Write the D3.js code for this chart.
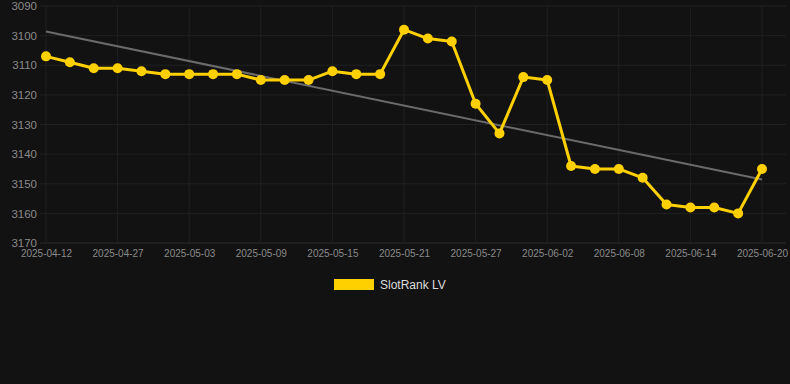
<!DOCTYPE html>
<html><head><meta charset="utf-8">
<script src="https://cdn.jsdelivr.net/npm/d3@7"></script>
<style>
html,body{margin:0;padding:0;background:#121212;}
svg{display:block;font-family:"Liberation Sans",Arial,sans-serif;}
</style></head>
<body>
<svg id="c" width="790" height="384"></svg>
<script>
const dates = ["2025-04-12","2025-04-17","2025-04-22","2025-04-27","2025-04-29","2025-05-01","2025-05-03","2025-05-05","2025-05-07","2025-05-09","2025-05-11","2025-05-13","2025-05-15","2025-05-17","2025-05-19","2025-05-21","2025-05-23","2025-05-25","2025-05-27","2025-05-29","2025-05-31","2025-06-02","2025-06-04","2025-06-06","2025-06-08","2025-06-10","2025-06-12","2025-06-14","2025-06-16","2025-06-18","2025-06-20"];
const ranks = [3107,3109,3111,3111,3112,3113,3113,3113,3113,3115,3115,3115,3112,3113,3113,3098,3101,3102,3123,3133,3114,3115,3144,3145,3145,3148,3157,3158,3158,3160,3145];
const yTicks = [3090,3100,3110,3120,3130,3140,3150,3160,3170];
const xTickLabels = ["2025-04-12","2025-04-27","2025-05-03","2025-05-09","2025-05-15","2025-05-21","2025-05-27","2025-06-02","2025-06-08","2025-06-14","2025-06-20"];
const seriesName = "SlotRank LV";

const svg = d3.select("#c");
const x = d3.scalePoint().domain(dates).range([46,762]);
const y = d3.scaleLinear().domain([3090,3170]).range([6,243]);
const gridL = 40, gridR = 786;

svg.append("g").selectAll("line").data(yTicks).join("line")
  .attr("x1",gridL).attr("x2",gridR)
  .attr("y1",d=>y(d)).attr("y2",d=>y(d))
  .attr("stroke",d=>d===3170?"#2c2c2c":"#202020").attr("stroke-width",1);
svg.append("g").selectAll("line").data(xTickLabels).join("line")
  .attr("x1",d=>x(d)).attr("x2",d=>x(d))
  .attr("y1",y(3090)).attr("y2",y(3170))
  .attr("stroke","#202020").attr("stroke-width",1);

const yAxis = d3.axisLeft(y).tickValues(yTicks).tickSize(0).tickPadding(0).tickFormat(d3.format("d"));
const ga = svg.append("g").attr("transform","translate(37,0)").call(yAxis);
ga.select(".domain").remove();
ga.selectAll("text").attr("fill","#8a8a8a").style("font-size","11.5px");

const xAxis = d3.axisBottom(x).tickValues(xTickLabels).tickSize(0).tickPadding(0);
const gx = svg.append("g").attr("transform","translate(0,254)").call(xAxis);
gx.select(".domain").remove();
gx.selectAll("text").attr("fill","#8a8a8a").style("font-size","10px").attr("dy","0.32em");

const n = ranks.length;
const idx = d3.range(n);
const mx = d3.mean(idx), my = d3.mean(ranks);
const slope = d3.sum(idx,i=>(i-mx)*(ranks[i]-my))/d3.sum(idx,i=>(i-mx)*(i-mx));
const icp = my - slope*mx;
svg.append("line")
  .attr("x1",x(dates[0])).attr("y1",y(icp))
  .attr("x2",x(dates[n-1])).attr("y2",y(icp+slope*(n-1)))
  .attr("stroke","#6b6b6b").attr("stroke-width",2);

const line = d3.line().x((d,i)=>x(dates[i])).y(d=>y(d));
svg.append("path").datum(ranks).attr("d",line)
  .attr("fill","none").attr("stroke","#FFD000").attr("stroke-width",3).attr("stroke-linejoin","round");
svg.append("g").selectAll("circle").data(ranks).join("circle")
  .attr("cx",(d,i)=>x(dates[i])).attr("cy",d=>y(d)).attr("r",5)
  .attr("fill","#FFD000");

svg.append("rect").attr("x",334).attr("y",279).attr("width",40).attr("height",11).attr("fill","#FFD000");
svg.append("text").attr("x",380).attr("y",285).attr("dy","0.35em").attr("fill","#dddddd")
  .style("font-size","12px").text(seriesName);
</script>
</body></html>
